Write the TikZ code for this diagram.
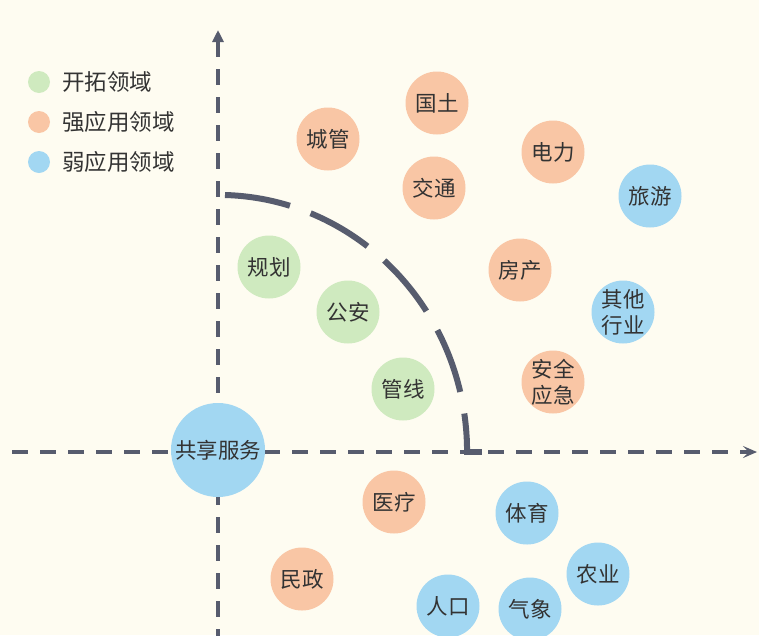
\documentclass[tikz,border=0pt]{standalone}
\usepackage{fontspec}
\newfontfamily\cjk{Noto Sans CJK SC}
\usetikzlibrary{arrows.meta}
\definecolor{bg}{HTML}{FEFCF1}
\definecolor{axiscol}{HTML}{575C6E}
\definecolor{gfill}{HTML}{CFEABF}
\definecolor{ofill}{HTML}{F9C6A5}
\definecolor{bfill}{HTML}{A2D7F2}
\definecolor{txt}{HTML}{333333}
\begin{document}
\begin{tikzpicture}[x=1pt,y=-1pt,
  bubble/.style={circle,inner sep=0pt,minimum size=63pt,
    font=\cjk\fontsize{21.5}{26}\selectfont,text=txt,align=center},
  gbub/.style={bubble,fill=gfill},
  obub/.style={bubble,fill=ofill},
  bbub/.style={bubble,fill=bfill},
  legdot/.style={circle,inner sep=0pt,minimum size=22pt},
  legtext/.style={anchor=west,inner sep=0pt,font=\cjk\fontsize{22.5}{26}\selectfont,text=txt},
  axisline/.style={draw=axiscol,line width=3.5pt,dash pattern=on 16pt off 12pt},
  arcline/.style={draw=axiscol,line width=6pt,dash pattern=on 66pt off 22pt},
]
\fill[bg] (0,0) rectangle (759,635);
\useasboundingbox (0,0) rectangle (759,635);

% axes
\coordinate (vtop) at (218,30);
\coordinate (vbot) at (218,640);
\coordinate (hl) at (12,452);
\coordinate (hr) at (757,452);
\draw[axisline,{Triangle[length=12pt,width=11pt]}-] (vtop) -- (vbot);
\draw[axisline,-{Stealth[length=14pt,width=12pt,inset=6pt]}] (hl) -- (hr);

% quarter arc
\draw[arcline] (225,195) arc[start angle=88.4,end angle=0,x radius=249pt,y radius=257pt];
\draw[draw=axiscol,line width=6pt,line join=miter] (467,438) -- (467,452) -- (482,452);

% legend
\node[legdot,fill=gfill] (d1) at (39,82) {};
\node[legdot,fill=ofill] (d2) at (39,122) {};
\node[legdot,fill=bfill] (d3) at (39,162) {};
\node[legtext] (t1) at (62,82) {开拓领域};
\node[legtext] (t2) at (62,122) {强应用领域};
\node[legtext] (t3) at (62,162) {弱应用领域};

% bubbles
\node[obub] (guotu) at (437,103) {国土};
\node[obub] (chengguan) at (328,139) {城管};
\node[obub] (dianli) at (553,152) {电力};
\node[obub] (jiaotong) at (434,188) {交通};
\node[bbub] (lvyou) at (650,196) {旅游};
\node[gbub] (guihua) at (269,267) {规划};
\node[obub] (fangchan) at (520,270) {房产};
\node[bbub] (qita) at (623,312) {其他\\行业};
\node[gbub] (gongan) at (348,312) {公安};
\node[gbub] (guanxian) at (403,389) {管线};
\node[obub] (anquan) at (553,382) {安全\\应急};
\node[bbub,minimum size=94pt] (gongxiang) at (218,450) {共享服务};
\node[obub] (yiliao) at (394,502) {医疗};
\node[bbub] (tiyu) at (527,513) {体育};
\node[bbub] (nongye) at (598,574) {农业};
\node[obub] (minzheng) at (302,579) {民政};
\node[bbub] (renkou) at (448,606) {人口};
\node[bbub] (qixiang) at (530,609) {气象};
\end{tikzpicture}
\end{document}
